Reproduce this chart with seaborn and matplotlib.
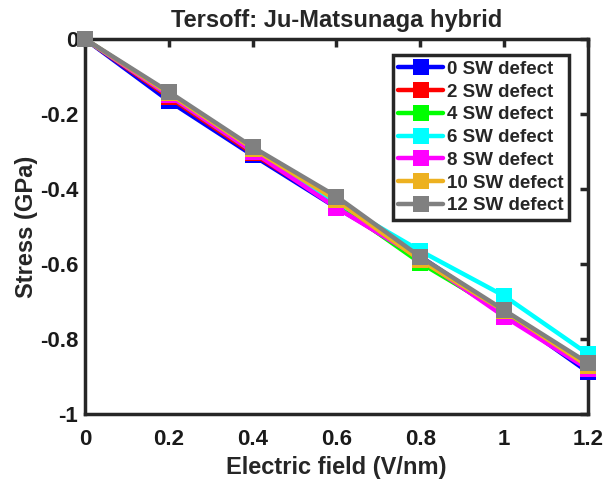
import matplotlib
matplotlib.use("Agg")
import matplotlib.pyplot as plt
from matplotlib.lines import Line2D
import seaborn as sns
import pandas as pd

# Electric field values (V/nm)
field = [0.0, 0.2, 0.4, 0.6, 0.8, 1.0, 1.2]

# Stress (GPa) for each number of Stone-Wales defects
stress_0 = [0.0, -0.165, -0.310, -0.450, -0.580, -0.730, -0.888]
stress_2 = [0.0, -0.155, -0.305, -0.445, -0.590, -0.735, -0.875]
stress_4 = [0.0, -0.150, -0.300, -0.440, -0.597, -0.730, -0.870]
stress_6 = [0.0, -0.148, -0.295, -0.435, -0.565, -0.685, -0.840]
stress_8 = [0.0, -0.150, -0.300, -0.450, -0.585, -0.740, -0.880]
stress_10 = [0.0, -0.145, -0.292, -0.430, -0.590, -0.725, -0.872]
stress_12 = [0.0, -0.141, -0.288, -0.420, -0.581, -0.723, -0.864]

labels = ["0 SW defect", "2 SW defect", "4 SW defect", "6 SW defect",
          "8 SW defect", "10 SW defect", "12 SW defect"]
series = [stress_0, stress_2, stress_4, stress_6, stress_8, stress_10, stress_12]
colors = ["#0000FF", "#FF0000", "#00FF00", "#00FFFF", "#FF00FF", "#EDB120", "#808080"]

x_ticks = [0, 0.2, 0.4, 0.6, 0.8, 1.0, 1.2]
x_ticklabels = ["0", "0.2", "0.4", "0.6", "0.8", "1", "1.2"]
y_ticks = [0, -0.2, -0.4, -0.6, -0.8, -1.0]
y_ticklabels = ["0", "-0.2", "-0.4", "-0.6", "-0.8", "-1"]

rows = []
for lab, vals in zip(labels, series):
    for f, s in zip(field, vals):
        rows.append({"field": f, "stress": s, "defects": lab})
df = pd.DataFrame(rows)

sns.set_theme(style="white")
plt.rcParams["font.family"] = ["Liberation Sans", "DejaVu Sans"]
plt.rcParams["font.weight"] = "bold"

fig = plt.figure(figsize=(6.04, 4.84), dpi=100)
ax = fig.add_axes([0.1407, 0.1446, 0.8328, 0.7748])

sns.lineplot(data=df, x="field", y="stress", hue="defects", hue_order=labels,
             palette=colors, marker="s", markersize=11, markeredgewidth=0,
             linewidth=3.2, dashes=False, ax=ax, legend=False)

for line in ax.lines:
    line.set_clip_on(False)

ax.set_xlim(0, 1.2)
ax.set_ylim(-1, 0)
ax.set_xticks(x_ticks)
ax.set_xticklabels(x_ticklabels)
ax.set_yticks(y_ticks)
ax.set_yticklabels(y_ticklabels)

spine_color = "#262626"
for sp in ax.spines.values():
    sp.set_visible(True)
    sp.set_color(spine_color)
    sp.set_linewidth(2.5)
    sp.set_zorder(1)

ax.tick_params(axis="both", which="both", direction="in", length=6, width=2.5,
               color=spine_color, top=True, right=True, labelsize=16,
               labelcolor="#1a1a1a")
ax.tick_params(axis="x", pad=11)
ax.tick_params(axis="y", pad=5)
for lbl in ax.get_xticklabels() + ax.get_yticklabels():
    lbl.set_fontweight("bold")

ax.set_xlabel("Electric field (V/nm)", fontsize=17, fontweight="bold",
              color="#262626", labelpad=4)
ax.set_ylabel("Stress (GPa)", fontsize=17, fontweight="bold",
              color="#262626", labelpad=1)
ax.set_title("Tersoff: Ju-Matsunaga hybrid", fontsize=17, fontweight="bold", pad=9)

handles = [Line2D([0], [0], color=c, linewidth=3.2, marker="s", markersize=11,
                  markeredgewidth=0) for c in colors]
leg = ax.legend(handles, labels, loc="upper right", bbox_to_anchor=(0.963, 0.957),
                frameon=True, fancybox=False, framealpha=1, edgecolor=spine_color,
                prop={"weight": "bold", "size": 13.5}, handlelength=2.4,
                handletextpad=0.2, labelspacing=0.3, borderpad=0.3,
                borderaxespad=0)
leg.get_frame().set_linewidth(2.5)

fig.savefig("out.png", dpi=100)
